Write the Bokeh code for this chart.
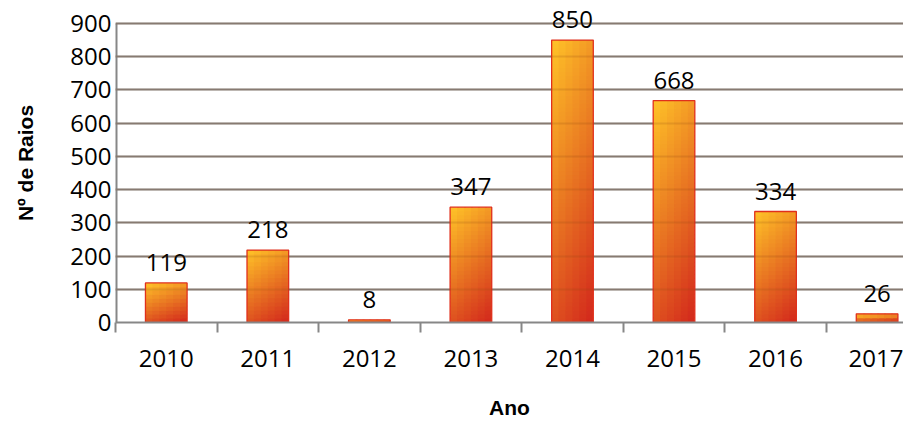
from bokeh.plotting import figure
from bokeh.models import ColumnDataSource, LabelSet, FixedTicker, Range1d, Grid
from bokeh.core.properties import value
from bokeh.embed import file_html
from bokeh.resources import INLINE

years = ["2010", "2011", "2012", "2013", "2014", "2015", "2016", "2017"]
raios = [119, 218, 8, 347, 850, 668, 334, 26]
y_ticks = [0, 100, 200, 300, 400, 500, 600, 700, 800, 900]

BAR_W = 0.41
TOP_COL = (255, 196, 40)
BOT_COL = (210, 38, 28)
COLS = 6


def mix(t):
    r = [round(a + (b - a) * t) for a, b in zip(TOP_COL, BOT_COL)]
    return "#%02x%02x%02x" % tuple(r)


centers = [i + 0.5 for i in range(len(years))]

# gradient cells derived from bar values
gl, gr, gb, gt, gc = [], [], [], [], []
for cx, v in zip(centers, raios):
    rows = max(2, round(v / 12))
    x0 = cx - BAR_W / 2
    dw = BAR_W / COLS
    dh = v / rows
    for r in range(rows):
        vfrac = 1 - (r + 0.5) / rows  # 0 at top
        for c in range(COLS):
            ufrac = (c + 0.5) / COLS
            t = 0.72 * vfrac + 0.28 * ufrac
            gl.append(x0 + c * dw)
            gr.append(min(x0 + (c + 1) * dw + dw * 0.3, x0 + BAR_W))
            gb.append(r * dh)
            gt.append(min((r + 1) * dh + dh * 0.3, v))
            gc.append(mix(t))

p = figure(width=903, height=421, output_backend="svg", toolbar_location=None,
           x_range=Range1d(0, 7.76), y_range=Range1d(0, 960),
           min_border_left=115, min_border_right=0, min_border_top=3,
           min_border_bottom=96)
p.outline_line_color = None
p.background_fill_color = "white"

grid_col = "#878787"
p.xgrid.visible = False
p.ygrid.ticker = FixedTicker(ticks=y_ticks)
p.ygrid.grid_line_color = grid_col
p.ygrid.grid_line_width = 2

# y axis line only up to the top tick
p.segment(x0=[0], y0=[y_ticks[0]], x1=[0], y1=[y_ticks[-1]],
          line_color=grid_col, line_width=4)

p.quad(left=gl, right=gr, bottom=gb, top=gt, fill_color=gc, line_color=None)

# grid showing faintly through the bars
over = Grid(dimension=1, ticker=FixedTicker(ticks=y_ticks), level="overlay",
            grid_line_color="#8a4010", grid_line_alpha=0.18, grid_line_width=2)
p.add_layout(over)

src = ColumnDataSource(dict(x=centers, top=raios, lab=[str(v) for v in raios],
                            left=[c - BAR_W / 2 for c in centers],
                            right=[c + BAR_W / 2 for c in centers]))
p.quad(left="left", right="right", bottom=0, top="top", source=src,
       fill_color=None, line_color="#e0301c", line_width=1.3)

labels = LabelSet(x="x", y="top", text="lab", source=src, y_offset=12,
                  text_align="center", text_baseline="bottom",
                  text_font=value("Open Sans"), text_font_size="24px",
                  text_color="black")
p.add_layout(labels)

# x axis
xa = p.xaxis[0]
xa.ticker = FixedTicker(ticks=centers, minor_ticks=list(range(len(years) + 1)))
xa.major_label_overrides = {c: y for c, y in zip(centers, years)}
xa.major_tick_line_color = None
xa.minor_tick_line_color = grid_col
xa.minor_tick_line_width = 2
xa.minor_tick_out = 10
xa.minor_tick_in = 0
xa.axis_line_color = grid_col
xa.axis_line_width = 2
xa.major_label_text_font = "Open Sans"
xa.major_label_text_font_size = "24px"
xa.major_label_text_color = "black"
xa.major_label_standoff = 17
xa.axis_label = "Ano"
xa.axis_label_text_font = "Liberation Sans"
xa.axis_label_text_font_style = "bold"
xa.axis_label_text_font_size = "21px"
xa.axis_label_text_color = "black"
xa.axis_label_standoff = 26

# y axis
ya = p.yaxis[0]
ya.ticker = FixedTicker(ticks=y_ticks)
ya.major_tick_line_color = None
ya.minor_tick_line_color = None
ya.axis_line_color = None
ya.major_label_text_font = "Open Sans"
ya.major_label_text_font_size = "24px"
ya.major_label_text_color = "black"
ya.major_label_standoff = -2
ya.axis_label = "Nº de Raios"
ya.axis_label_text_font = "Liberation Sans"
ya.axis_label_text_font_style = "bold"
ya.axis_label_text_font_size = "21px"
ya.axis_label_text_color = "black"
ya.axis_label_standoff = 30

open("out.html", "w").write(file_html(p, INLINE))
